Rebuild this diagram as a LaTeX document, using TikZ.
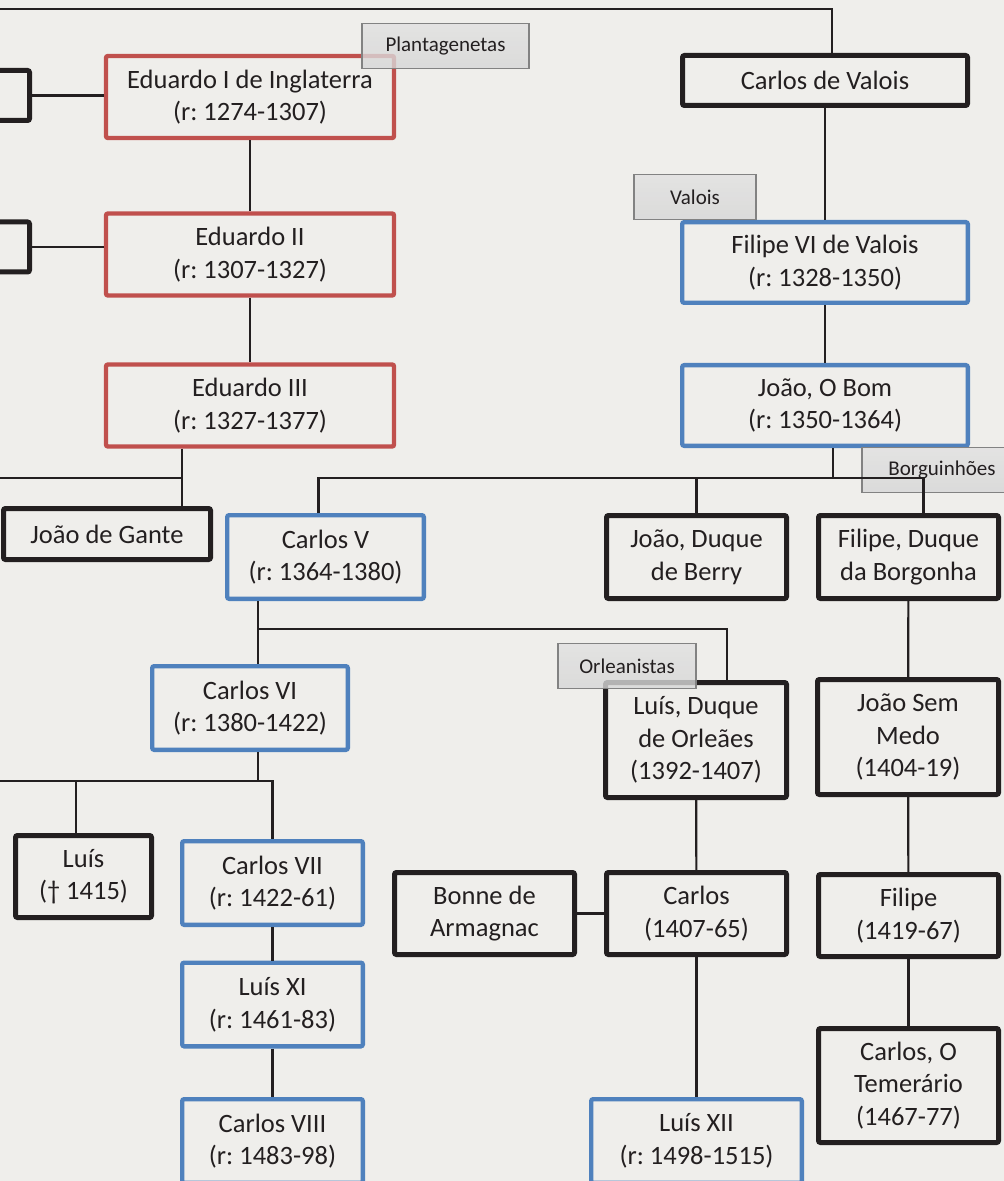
\documentclass[tikz,border=0pt]{standalone}
\usepackage{fontspec}
\setmainfont{Carlito}
\usepackage{xcolor}
\definecolor{paper}{RGB}{239,238,235}
\definecolor{ink}{RGB}{35,31,32}
\definecolor{plred}{RGB}{192,80,77}
\definecolor{vablue}{RGB}{79,129,189}
\definecolor{tabedge}{RGB}{130,130,130}
\usepackage{tikz}
\usetikzlibrary{calc}
\frenchspacing

\begin{document}
\begin{tikzpicture}[x=0.5pt,y=-0.5pt,
  person/.style={rectangle, rounded corners=1pt, inner sep=0pt, align=center, text=ink,
    font=\fontsize{13.25}{16.3}\selectfont},
  redbox/.style={person, draw=plred, line width=2.2pt},
  bluebox/.style={person, draw=vablue, line width=2.2pt},
  blackbox/.style={person, draw=ink, line width=2.5pt},
  housetab/.style={rectangle, draw=tabedge, line width=0.6pt, inner sep=0pt,
    top color=black!12, middle color=black!3, bottom color=black!16,
    fill opacity=0.8, text opacity=1, text=ink, minimum height=22.5pt,
    font=\fontsize{10.5}{12}\selectfont},
  link/.style={draw=ink, line width=1.1pt}
]
\useasboundingbox (0,0) rectangle (1004,1181);
\clip (0,0) rectangle (1004,1181);
\fill[paper] (0,0) rectangle (1004,1181);

% Plantagenetas
\node[blackbox, minimum width=43.5pt, minimum height=25pt] (kinA) at (-14,95.5) {};
\node[blackbox, minimum width=43.5pt, minimum height=25pt] (kinB) at (-14,247) {};
\node[redbox, minimum width=144pt, minimum height=41pt] (edI) at (250,97) {Eduardo I de Inglaterra\\(r: 1274-1307)};
\node[redbox, minimum width=144pt, minimum height=41pt] (edII) at (250,254.5) {Eduardo II\\(r: 1307-1327)};
\node[redbox, minimum width=144pt, minimum height=41pt] (edIII) at (250,405.5) {Eduardo III\\(r: 1327-1377)};
\node[blackbox, minimum width=103.5pt, minimum height=25.5pt] (joaoGante) at (107,534) {João de Gante};

% Valois
\node[blackbox, minimum width=142.5pt, minimum height=25pt] (carlosValois) at (825,80.5) {Carlos de Valois};
\node[bluebox, minimum width=142.8pt, minimum height=40.3pt] (filipeVI) at (825,262.5) {Filipe VI de Valois\\(r: 1328-1350)};
\node[bluebox, minimum width=142.8pt, minimum height=40.3pt] (joaoBom) at (825,405.5) {João, O Bom\\(r: 1350-1364)};
\node[bluebox, minimum width=98.3pt, minimum height=41.8pt] (carlosV) at (325.5,557) {Carlos V\\(r: 1364-1380)};
\node[blackbox, minimum width=90pt, minimum height=41.5pt] (berry) at (696.5,557) {João, Duque\\de Berry};
\node[blackbox, minimum width=90pt, minimum height=41.5pt] (filipeBorg) at (908.5,557) {Filipe, Duque\\da Borgonha};
\node[bluebox, minimum width=97.8pt, minimum height=41.8pt] (carlosVI) at (250,708) {Carlos VI\\(r: 1380-1422)};
\node[blackbox, minimum width=68pt, minimum height=41pt] (luis1415) at (83.5,876.5) {Luís\\(† 1415)};
\node[bluebox, minimum width=90.3pt, minimum height=41.8pt] (carlosVII) at (272.5,883) {Carlos VII\\(r: 1422-61)};
\node[bluebox, minimum width=90.3pt, minimum height=41.8pt] (luisXI) at (272.5,1004.5) {Luís XI\\(r: 1461-83)};
\node[bluebox, minimum width=90.3pt, minimum height=41.8pt] (carlosVIII) at (272.5,1141) {Carlos VIII\\(r: 1483-98)};

% Orleanistas
\node[blackbox, minimum width=90.5pt, minimum height=57.5pt] (luisOrl) at (696,740) {Luís, Duque\\de Orleães\\(1392-1407)};
\node[blackbox, minimum width=90pt, minimum height=41pt] (bonne) at (484.5,913.5) {Bonne de\\Armagnac};
\node[blackbox, minimum width=90pt, minimum height=41pt] (carlosOrl) at (696.5,913.5) {Carlos\\(1407-65)};
\node[bluebox, minimum width=105.3pt, minimum height=41.8pt] (luisXII) at (696.5,1141) {Luís XII\\(r: 1498-1515)};

% Borguinhoes
\node[blackbox, minimum width=90.5pt, minimum height=57.5pt] (joaoSem) at (908,737) {João Sem\\Medo\\(1404-19)};
\node[blackbox, minimum width=90pt, minimum height=41pt] (filipe) at (908.5,915.5) {Filipe\\(1419-67)};
\node[blackbox, minimum width=90pt, minimum height=57pt] (temerario) at (908.5,1085.5) {Carlos, O\\Temerário\\(1467-77)};

% house tabs
\node[housetab, minimum width=83.5pt] (tabPlant) at (445.5,46) {Plantagenetas};
\node[housetab, minimum width=61pt] (tabValois) at (695,197) {Valois};
\node[housetab, minimum width=69pt] (tabOrl) at (627,666) {Orleanistas};
\node[housetab, minimum width=80pt] (tabBorg) at (942,470) {Borguinhões};

% connectors
\coordinate (topleft) at (-10,9);
\coordinate (ganteleft) at (-10,478);
\coordinate (gantefork) at (182,478);
\coordinate (bomfork) at (833,478);
\coordinate (vfork) at (258,629);
\coordinate (vileft) at (-10,781);
\coordinate (vifork) at (258,781);

\draw[link] (topleft) -| ($(carlosValois.north)+(7,0)$);
\draw[link] (kinA.east) -- (kinA.east -| edI.west);
\draw[link] (kinB.east) -- (kinB.east -| edII.west);
\draw[link] (edI) -- (edII);
\draw[link] (edII) -- (edIII);
\draw[link] (gantefork |- edIII.south) -- (gantefork |- joaoGante.north);
\draw[link] (ganteleft) -- (gantefork);

\draw[link] (carlosValois) -- (filipeVI);
\draw[link] (filipeVI) -- (joaoBom);
\draw[link] (bomfork |- joaoBom.south) -- (bomfork);
\draw[link] ($(carlosV.north)+(-7,0)$) |- (bomfork) -| ($(filipeBorg.north)+(15,0)$);
\draw[link] (berry.north) -- (berry.north |- bomfork);

\draw[link] (vfork |- carlosV.south) -- (vfork |- carlosVI.north);
\draw[link] (vfork) -| ($(luisOrl.north)+(31,0)$);
\draw[link] (vifork |- carlosVI.south) -- (vifork);
\draw[link] (vileft) -| (carlosVII.north);
\draw[link] ($(luis1415.north)+(-7.5,0)$) -- ($(luis1415.north |- vileft)+(-7.5,0)$);
\draw[link] (carlosVII) -- (luisXI);
\draw[link] (luisXI) -- (carlosVIII);

\draw[link] (luisOrl) -- (carlosOrl);
\draw[link] (bonne) -- (carlosOrl);
\draw[link] (carlosOrl) -- (luisXII);

\draw[link] (filipeBorg) -- (joaoSem);
\draw[link] (joaoSem) -- (filipe);
\draw[link] (filipe) -- (temerario);
\end{tikzpicture}
\end{document}
